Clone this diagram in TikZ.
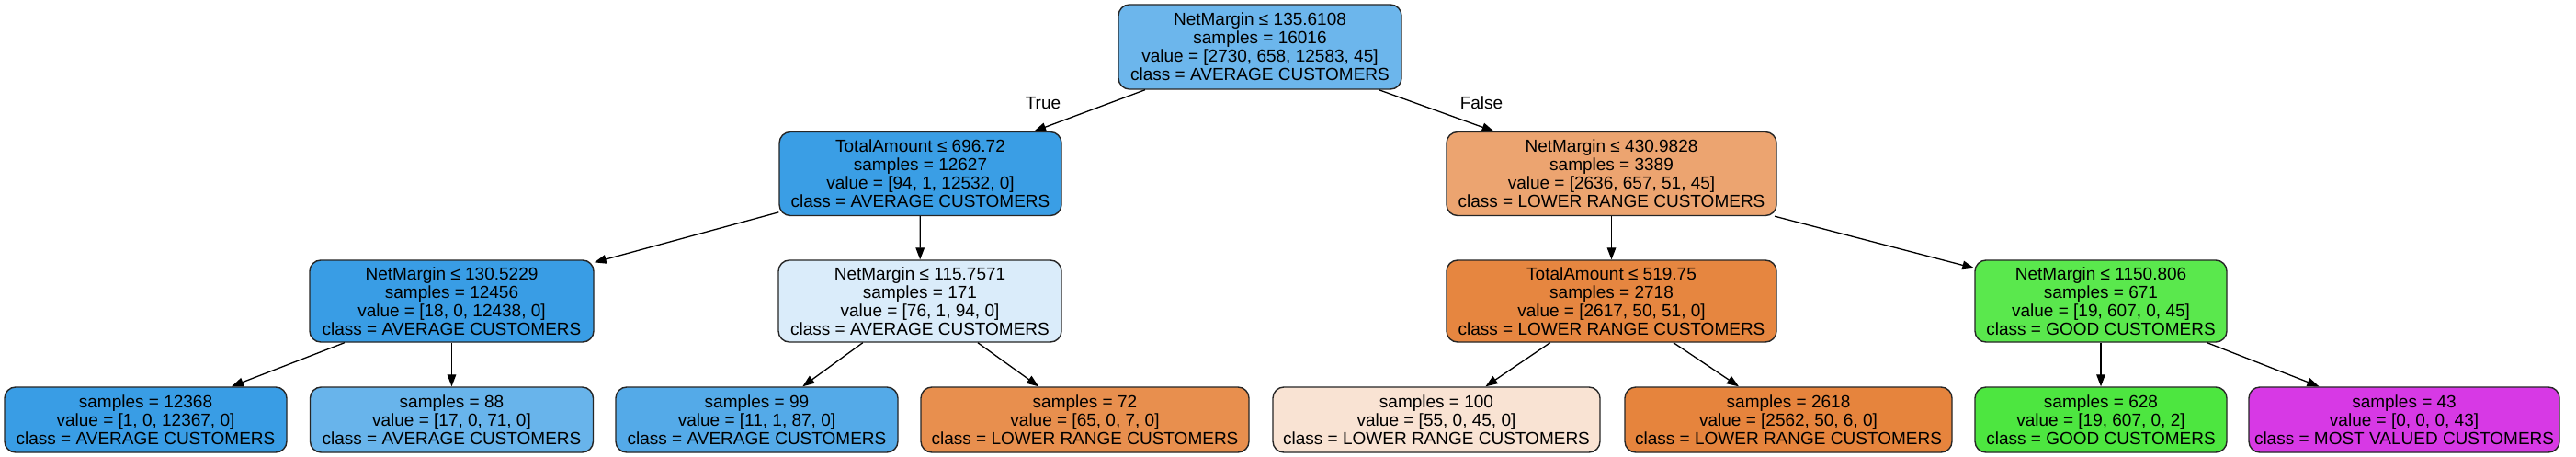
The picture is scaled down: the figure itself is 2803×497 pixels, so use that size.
\documentclass[tikz,border=0pt]{standalone}
\usepackage{fontspec}
\setmainfont{Liberation Sans}
\usetikzlibrary{arrows.meta}
\definecolor{cRoot}{RGB}{108,182,236}
\definecolor{cLa}{RGB}{58,158,229}
\definecolor{cLb}{RGB}{236,164,112}
\definecolor{cMa}{RGB}{57,157,229}
\definecolor{cMb}{RGB}{218,236,250}
\definecolor{cMc}{RGB}{230,134,64}
\definecolor{cMd}{RGB}{90,232,77}
\definecolor{cF1}{RGB}{57,157,229}
\definecolor{cF2}{RGB}{104,180,235}
\definecolor{cF3}{RGB}{84,170,232}
\definecolor{cF4}{RGB}{232,143,78}
\definecolor{cF5}{RGB}{249,227,211}
\definecolor{cF6}{RGB}{230,132,61}
\definecolor{cF7}{RGB}{77,230,64}
\definecolor{cF8}{RGB}{215,57,229}
\tikzset{
  tn/.style={draw=black!85, line width=0.7pt, rounded corners=6pt, align=center,
    inner sep=0pt, text=black, font=\fontsize{9.5}{10}\selectfont},
  inner/.style={tn, minimum height=45.5pt},
  leaf/.style={tn, minimum height=35.5pt},
  edge/.style={draw=black, line width=0.65pt, -{Triangle[length=6.5pt,width=4.8pt]}},
  lbl/.style={inner sep=0pt, text=black, font=\fontsize{9.5}{10}\selectfont}
}
\begin{document}
\begin{tikzpicture}[x=0.5pt,y=-0.5pt]
\useasboundingbox[fill=white] (0,0) rectangle (2803,497);
% root
\node[inner, minimum height=46pt, minimum width=154pt, fill=cRoot] (root) at (1371,51)
  {NetMargin ≤ 135.6108\\samples = 16016\\value = [2730, 658, 12583, 45]\\class = AVERAGE CUSTOMERS};
% level 1
\node[inner, minimum width=153.5pt, fill=cLa] (la) at (1001.5,189)
  {TotalAmount ≤ 696.72\\samples = 12627\\value = [94, 1, 12532, 0]\\class = AVERAGE CUSTOMERS};
\node[inner, minimum width=179.5pt, fill=cLb] (lb) at (1753.5,189)
  {NetMargin ≤ 430.9828\\samples = 3389\\value = [2636, 657, 51, 45]\\class = LOWER RANGE CUSTOMERS};
% level 2
\node[inner, minimum height=44.5pt, minimum width=154.5pt, fill=cMa] (ma) at (491.5,327.5)
  {NetMargin ≤ 130.5229\\samples = 12456\\value = [18, 0, 12438, 0]\\class = AVERAGE CUSTOMERS};
\node[inner, minimum height=44.5pt, minimum width=154pt, fill=cMb] (mb) at (1001,327.5)
  {NetMargin ≤ 115.7571\\samples = 171\\value = [76, 1, 94, 0]\\class = AVERAGE CUSTOMERS};
\node[inner, minimum height=44.5pt, minimum width=179.5pt, fill=cMc] (mc) at (1753.5,327.5)
  {TotalAmount ≤ 519.75\\samples = 2718\\value = [2617, 50, 51, 0]\\class = LOWER RANGE CUSTOMERS};
\node[inner, minimum height=44.5pt, minimum width=137pt, fill=cMd] (md) at (2286,327.5)
  {NetMargin ≤ 1150.806\\samples = 671\\value = [19, 607, 0, 45]\\class = GOOD CUSTOMERS};
% leaves
\node[leaf, minimum width=153.5pt, fill=cF1] (f1) at (158.5,456.5)
  {samples = 12368\\value = [1, 0, 12367, 0]\\class = AVERAGE CUSTOMERS};
\node[leaf, minimum width=154pt, fill=cF2] (f2) at (491.5,456.5)
  {samples = 88\\value = [17, 0, 71, 0]\\class = AVERAGE CUSTOMERS};
\node[leaf, minimum width=153.5pt, fill=cF3] (f3) at (823.5,456.5)
  {samples = 99\\value = [11, 1, 87, 0]\\class = AVERAGE CUSTOMERS};
\node[leaf, minimum width=178.5pt, fill=cF4] (f4) at (1180.5,456.5)
  {samples = 72\\value = [65, 0, 7, 0]\\class = LOWER RANGE CUSTOMERS};
\node[leaf, minimum width=178pt, fill=cF5] (f5) at (1563,456.5)
  {samples = 100\\value = [55, 0, 45, 0]\\class = LOWER RANGE CUSTOMERS};
\node[leaf, minimum width=178pt, fill=cF6] (f6) at (1946,456.5)
  {samples = 2618\\value = [2562, 50, 6, 0]\\class = LOWER RANGE CUSTOMERS};
\node[leaf, minimum width=137pt, fill=cF7] (f7) at (2286,456.5)
  {samples = 628\\value = [19, 607, 0, 2]\\class = GOOD CUSTOMERS};
\node[leaf, minimum width=169pt, fill=cF8] (f8) at (2616,456.5)
  {samples = 43\\value = [0, 0, 0, 43]\\class = MOST VALUED CUSTOMERS};
% edges
\draw[edge] (root) -- (la);
\draw[edge] (root) -- (lb);
\draw[edge] (la) -- (ma);
\draw[edge] (la) -- (mb);
\draw[edge] (lb) -- (mc);
\draw[edge] (lb) -- (md);
\draw[edge] (ma) -- (f1);
\draw[edge] (ma) -- (f2);
\draw[edge] (mb) -- (f3);
\draw[edge] (mb) -- (f4);
\draw[edge] (mc) -- (f5);
\draw[edge] (mc) -- (f6);
\draw[edge] (md) -- (f7);
\draw[edge] (md) -- (f8);
% edge labels
\node[lbl] (tlab) at (1135,112) {True};
\node[lbl] (flab) at (1612,112) {False};
\end{tikzpicture}
\end{document}
